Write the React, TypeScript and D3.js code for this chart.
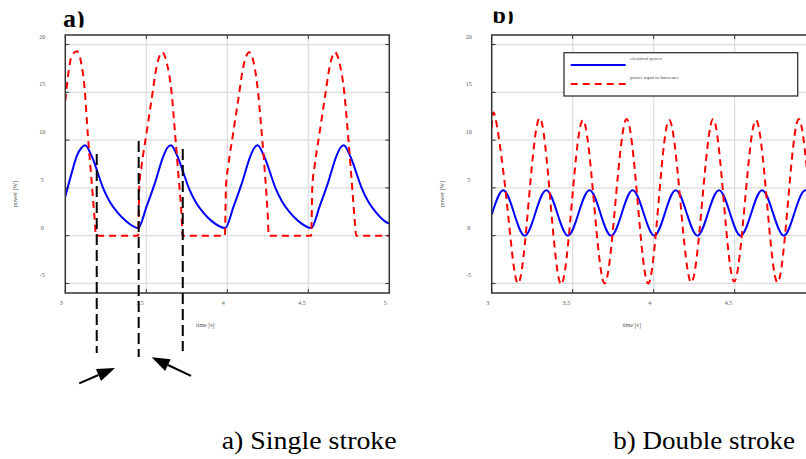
import * as d3 from "d3";

type Pt = [number, number];

// a) single stroke: electrical power [t (s), P (W)]
const elecA: Pt[] = [
  [3.0, 4.1], [3.04, 6.6], [3.07, 8.3], [3.1, 9.2], [3.123, 9.45], [3.158, 8.5], [3.18, 7.6], [3.198, 6.7], [3.233, 5.0], [3.273, 3.6], [3.323, 2.4], [3.373, 1.55], [3.45, 0.8],
  [3.502, 3.07], [3.553, 5.5], [3.605, 8.3], [3.63, 9.2], [3.652, 9.45], [3.687, 8.5], [3.709, 7.6], [3.727, 6.7], [3.762, 5.0], [3.802, 3.6], [3.852, 2.4], [3.902, 1.55], [3.987, 0.8],
  [4.039, 3.07], [4.09, 5.5], [4.142, 8.3], [4.167, 9.2], [4.187, 9.45], [4.222, 8.5], [4.244, 7.6], [4.262, 6.7], [4.297, 5.0], [4.337, 3.6], [4.387, 2.4], [4.437, 1.55], [4.518, 0.8],
  [4.57, 3.07], [4.621, 5.5], [4.673, 8.3], [4.698, 9.2], [4.719, 9.45], [4.754, 8.5], [4.776, 7.6], [4.794, 6.7], [4.829, 5.0], [4.869, 3.6], [4.919, 2.4], [4.969, 1.55], [5.0, 1.25],
];

// a) single stroke: power input to harvester
const inputA: Pt[] = [
  [3.0, 14.1], [3.019, 17.0], [3.039, 18.8], [3.072, 19.3], [3.098, 18.1], [3.12, 15.3], [3.138, 10.8], [3.16, 6.2], [3.18, 2.0], [3.19, 0],
  [3.45, 0], [3.457, 5.2], [3.471, 7.3], [3.502, 10.8], [3.533, 14.3], [3.564, 17.7], [3.598, 19.2], [3.626, 18.1], [3.656, 15.0], [3.677, 10.8], [3.697, 6.6], [3.718, 2.0], [3.724, 0],
  [3.985, 0], [3.992, 5.2], [4.006, 7.3], [4.037, 10.8], [4.068, 14.3], [4.099, 17.7], [4.135, 19.2], [4.163, 18.1], [4.19, 15.0], [4.212, 10.8], [4.232, 6.6], [4.25, 2.0], [4.256, 0],
  [4.518, 0], [4.525, 5.2], [4.539, 7.3], [4.57, 10.8], [4.601, 14.3], [4.632, 17.7], [4.664, 19.2], [4.692, 18.1], [4.722, 15.0], [4.744, 10.8], [4.764, 6.6], [4.787, 1.5], [4.795, 0],
  [5.0, 0],
];

// b) double stroke: electrical power
const elecB: Pt[] = [
  [3.0, 2.2], [3.07, 4.75], [3.137, 2.4], [3.204, 0.0], [3.27, 2.4], [3.337, 4.75], [3.404, 2.4], [3.471, 0.0],
  [3.537, 2.4], [3.604, 4.75], [3.67, 2.4], [3.737, 0.0], [3.804, 2.4], [3.87, 4.75], [3.937, 2.4], [4.004, 0.0],
  [4.07, 2.4], [4.136, 4.75], [4.203, 2.4], [4.27, 0.0], [4.336, 2.4], [4.403, 4.75], [4.47, 2.4], [4.536, 0.0],
  [4.603, 2.4], [4.669, 4.75], [4.736, 2.4], [4.803, 0.0], [4.869, 2.4], [4.936, 4.75], [5.0, 2.5],
];

// b) double stroke: power input to harvester
const inputB: Pt[] = [
  [3.0, 11.3], [3.022, 12.4], [3.092, 3.7], [3.162, -5.0], [3.229, 3.7], [3.296, 12.3], [3.362, 3.7], [3.429, -5.1],
  [3.496, 3.7], [3.563, 12.1], [3.63, 3.7], [3.697, -5.0], [3.765, 3.7], [3.833, 12.2], [3.9, 3.7], [3.966, -5.0],
  [4.031, 3.7], [4.096, 12.1], [4.164, 3.7], [4.232, -4.9], [4.3, 3.7], [4.367, 12.2], [4.432, 3.7], [4.497, -4.8],
  [4.564, 3.7], [4.631, 12.1], [4.698, 3.7], [4.764, -4.9], [4.83, 3.7], [4.897, 12.2], [4.965, 3.7], [5.03, -4.9],
];

const xTicks = [3, 3.5, 4, 4.5, 5];
const xTickLabels = ["3", "3.5", "4", "4.5", "5"];
const yTicks = [-5, 0, 5, 10, 15, 20];
const yTickLabels = ["-5", "0", "5", "10", "15", "20"];

// dashed markers in a): time, top value, bottom value
const markerT = [3.194, 3.453, 3.725];
const markerTop = [8.55, 9.91, 9.07];
const markerBottom = [-12.28, -12.69, -12.07];

// arrows in a): [tail t, tail v, tip t, tip v]
const arrows = [
  [3.086, -15.45, 3.307, -13.84],
  [3.776, -14.68, 3.533, -12.73],
];

const W = 806;
const H = 459;
const top = 35;
const bottom = 293;
const plotW = 324;
const serif = "Liberation Serif, Times New Roman, Times, serif";

function scales(left: number) {
  const x = d3.scaleLinear().domain([3, 5]).range([left, left + plotW]);
  const y = d3.scaleLinear().domain([-6, 21]).range([bottom, top]);
  return { x, y };
}

function Panel({ left, id, elec, input, curve, children }: any) {
  const { x, y } = scales(left);
  const line = d3
    .line<Pt>()
    .x((d) => x(d[0]))
    .y((d) => y(d[1]))
    .curve(curve);
  const right = left + plotW;
  return (
    <g>
      <defs>
        <clipPath id={id}>
          <rect x={left} y={top} width={plotW} height={bottom - top} />
        </clipPath>
      </defs>
      <rect x={left} y={top} width={plotW} height={bottom - top} fill="#fff" />
      {yTicks.map((v) => (
        <line key={"gy" + v} x1={left} x2={right} y1={y(v)} y2={y(v)} stroke="#dcdcdc" strokeWidth={1.2} />
      ))}
      {xTicks.slice(1, -1).map((t) => (
        <line key={"gx" + t} x1={x(t)} x2={x(t)} y1={top} y2={bottom} stroke="#dcdcdc" strokeWidth={1.2} />
      ))}
      <g clipPath={`url(#${id})`}>
        <path d={line(elec) || ""} fill="none" stroke="#0000ff" strokeWidth={2} />
        <path d={line(input) || ""} fill="none" stroke="#ff0000" strokeWidth={2} strokeDasharray="7,5" />
      </g>
      {yTicks.map((v) => (
        <g key={"ty" + v} stroke="#333" strokeWidth={1}>
          <line x1={left} x2={left + 4} y1={y(v)} y2={y(v)} />
          <line x1={right - 4} x2={right} y1={y(v)} y2={y(v)} />
        </g>
      ))}
      {xTicks.map((t) => (
        <g key={"tx" + t} stroke="#333" strokeWidth={1}>
          <line x1={x(t)} x2={x(t)} y1={bottom} y2={bottom - 4} />
          <line x1={x(t)} x2={x(t)} y1={top} y2={top + 4} />
        </g>
      ))}
      <rect x={left} y={top} width={plotW} height={bottom - top} fill="none" stroke="#333" strokeWidth={1.5} />
      <g style={{ fontFamily: serif }} fontSize={6} fill="#555">
        {yTicks.map((v, i) => (
          <text key={"ly" + v} x={left - 23} y={y(v) - 8} textAnchor="middle" dominantBaseline="central">
            {yTickLabels[i]}
          </text>
        ))}
        {xTicks
          .filter((t) => x(t) < W)
          .map((t, i) => (
            <text key={"lx" + t} x={x(t) - 2.5} y={303} textAnchor="end" dominantBaseline="central">
              {xTickLabels[i]}
            </text>
          ))}
        <text x={left + 140} y={325} textAnchor="middle" dominantBaseline="central">
          time [s]
        </text>
        <text
          transform={`translate(${left - 50},194) rotate(-90)`}
          textAnchor="middle"
          dominantBaseline="central"
        >
          power [W]
        </text>
      </g>
      {children}
    </g>
  );
}

function Annotations() {
  const { x, y } = scales(65.3);
  return (
    <g>
      {markerT.map((t, i) => (
        <line
          key={"m" + i}
          x1={x(t)}
          x2={x(t)}
          y1={y(markerTop[i])}
          y2={y(markerBottom[i])}
          stroke="#000"
          strokeWidth={2}
          strokeDasharray="11,5"
        />
      ))}
      {arrows.map((a, i) => {
        const x0 = x(a[0]);
        const y0 = y(a[1]);
        const x1 = x(a[2]);
        const y1 = y(a[3]);
        const len = Math.hypot(x1 - x0, y1 - y0);
        const ux = (x1 - x0) / len;
        const uy = (y1 - y0) / len;
        const hl = 18;
        const hw = 6.5;
        const bx = x1 - ux * hl;
        const by = y1 - uy * hl;
        const pts = [
          [x1, y1],
          [bx - uy * hw, by + ux * hw],
          [bx + uy * hw, by - ux * hw],
        ];
        return (
          <g key={"a" + i}>
            <line x1={x0} y1={y0} x2={bx} y2={by} stroke="#000" strokeWidth={2} />
            <polygon points={pts.map((p) => p.join(",")).join(" ")} fill="#000" />
          </g>
        );
      })}
    </g>
  );
}

function Legend() {
  return (
    <g>
      <rect x={564} y={52.7} width={233.7} height={43.3} fill="#fff" stroke="#333" strokeWidth={1.3} />
      <line x1={570.7} x2={625.7} y1={65} y2={65} stroke="#0000ff" strokeWidth={2} />
      <line x1={570.7} x2={625.7} y1={84} y2={84} stroke="#ff0000" strokeWidth={2} strokeDasharray="7,5" />
      <g style={{ fontFamily: serif }} fontSize={5} fill="#444">
        <text x={630} y={58.5} dominantBaseline="central">
          electrical power
        </text>
        <text x={630} y={77.5} dominantBaseline="central">
          power input to harvester
        </text>
      </g>
    </g>
  );
}

export default function App() {
  return (
    <svg
      width={W}
      height={H}
      style={{ position: "absolute", left: 0, top: 0, background: "#fff" }}
    >
      <defs>
        <clipPath id="titleClipA">
          <rect x={0} y={11.5} width={300} height={16} />
        </clipPath>
        <clipPath id="titleClipB">
          <rect x={400} y={11.5} width={300} height={12.3} />
        </clipPath>
      </defs>
      <rect width={W} height={H} fill="#fff" />
      <Panel left={65.3} id="clipA" elec={elecA} input={inputA} curve={d3.curveMonotoneX} />
      <Panel left={491.7} id="clipB" elec={elecB} input={inputB} curve={d3.curveNatural}>
        <Legend />
      </Panel>
      <Annotations />
      <g style={{ fontFamily: serif }} fontWeight="bold" fill="#000">
        <text x={63} y={26.5} fontSize={26} clipPath="url(#titleClipA)">
          a)
        </text>
        <text x={492.5} y={23.3} fontSize={24} clipPath="url(#titleClipB)">
          b)
        </text>
      </g>
      <g style={{ fontFamily: serif }} fontSize={25} fill="#000">
        <text x={221.7} y={449} textLength={175} lengthAdjust="spacingAndGlyphs">
          a) Single stroke
        </text>
        <text x={613.3} y={448.5} textLength={181.7} lengthAdjust="spacingAndGlyphs">
          b) Double stroke
        </text>
      </g>
    </svg>
  );
}
